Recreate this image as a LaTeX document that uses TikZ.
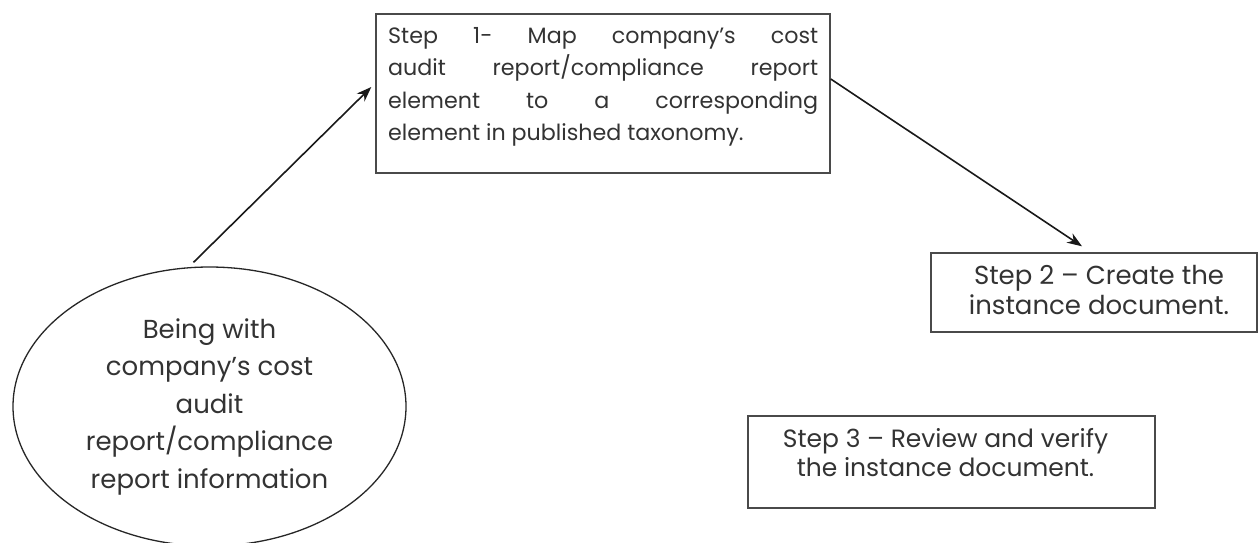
\documentclass[tikz,border=0pt]{standalone}
\usepackage{fontspec}
\setmainfont{Poppins}
\usetikzlibrary{arrows.meta,shapes.geometric}
\definecolor{ink}{HTML}{333333}
\definecolor{edge}{HTML}{4A4A4A}
\begin{document}
\begin{tikzpicture}[x=1pt,y=-1pt,
  box/.style={draw=edge,line width=1.4pt,rectangle,inner sep=0pt},
  boxtext/.style={text=ink,inner sep=0pt},
  arr/.style={draw=black!90,line width=1.6pt,-{Stealth[length=15pt,width=11pt]}}]
  \useasboundingbox (0,0) rectangle (1258,542);

  % start oval
  \node[ellipse,draw=black!85,line width=1.3pt,minimum width=393,minimum height=279,
        inner sep=0pt,text=ink,align=center,font=\fontsize{26}{37.5}\selectfont]
        (e) at (209.5,406.5)
        {Being with\\company’s cost\\audit\\report/compliance\\report information};

  % step boxes
  \node[box,minimum width=454,minimum height=159] (s1) at (603,93.5) {};
  \node[box,minimum width=326,minimum height=79] (s2) at (1094,292.5) {};
  \node[box,minimum width=407,minimum height=92] (s3) at (951.5,462) {};

  % box texts (base anchor sits on the last line)
  \node[boxtext,anchor=base west,text width=430,align=justify,
        font=\fontsize{22.2}{32.5}\selectfont] (t1) at (388,43)
    {Step 1- Map company’s cost\linebreak audit report/compliance report\linebreak
     element to a corresponding\linebreak element in published taxonomy.};
  \node[boxtext,anchor=base,align=center,font=\fontsize{26}{30}\selectfont] (t2) at (1099,314)
    {Step 2 – Create the\\instance document.};
  \node[boxtext,anchor=base,align=center,font=\fontsize{25}{29}\selectfont] (t3) at (945.5,476)
    {Step 3 – Review and verify\\the instance document.};

  % connectors
  \draw[arr] ([shift={(-16,-4)}]e.north) -- ([shift={(-4,-6.5)}]s1.west);
  \draw[arr] ([shift={(0,-14.5)}]s1.east) -- ([shift={(-12,-6)}]s2.north);
\end{tikzpicture}
\end{document}
